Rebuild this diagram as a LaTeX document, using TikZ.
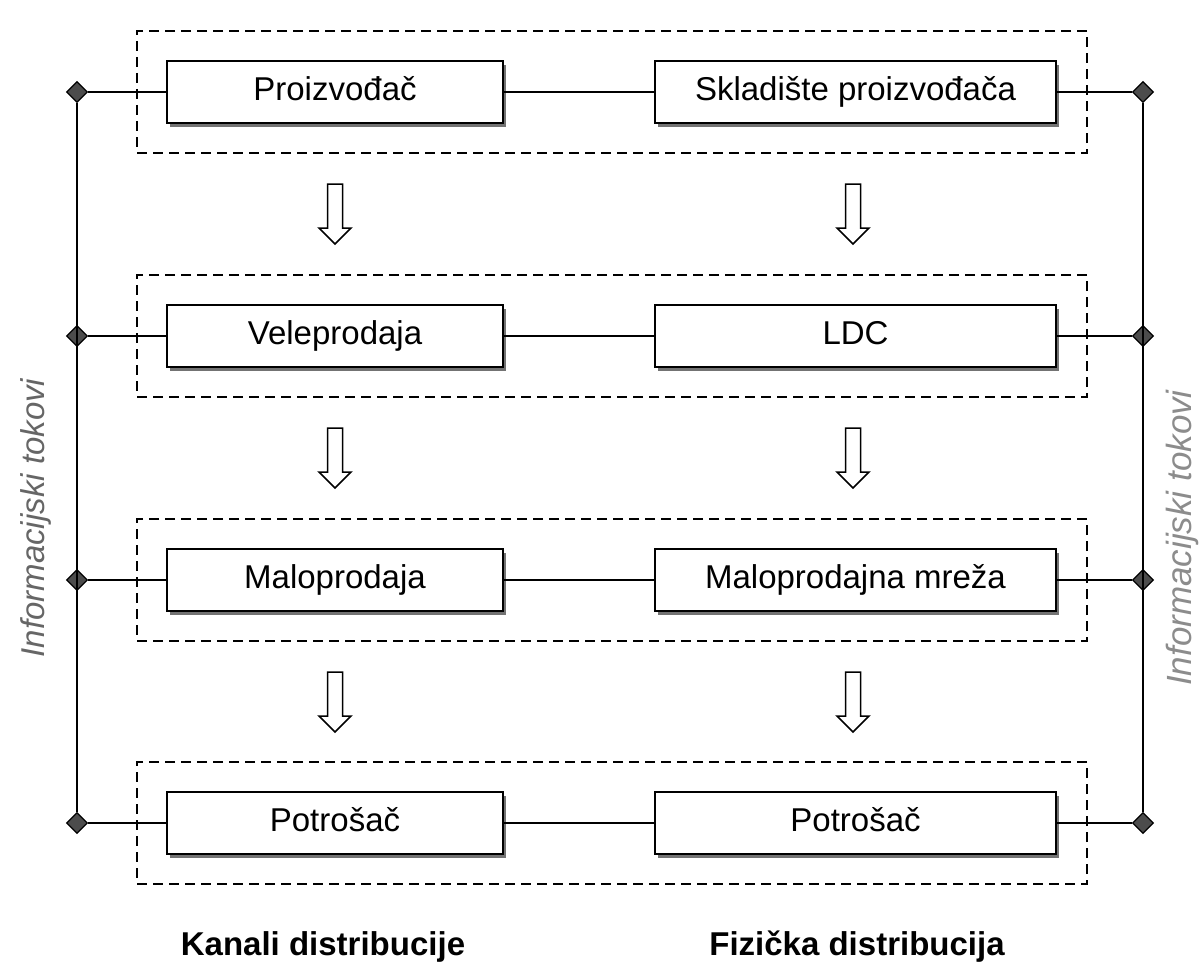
\documentclass[tikz,border=0pt]{standalone}
\usepackage{fontspec}
\setmainfont{Liberation Sans}
\usetikzlibrary{shapes.geometric,shadows}
\tikzset{
  grpbox/.style={draw, dash pattern=on 10pt off 6pt, line width=2pt, minimum width=950pt, minimum height=122pt},
  stagebox/.style={draw, line width=1.6pt, fill=white, minimum height=62pt, text height=24pt, text depth=7pt,
    font=\fontsize{33}{40}\selectfont,
    drop shadow={shadow xshift=3pt, shadow yshift=-4pt, fill=black!55, opacity=1}},
  joint/.style={diamond, draw, fill=black!70, minimum size=21pt, inner sep=0pt},
  sidelabel/.style={rotate=90, anchor=base, font=\fontsize{33}{40}\selectfont\itshape, text=black!60},
  flowlabel/.style={anchor=base, font=\fontsize{33}{40}\selectfont\bfseries},
  flowarrow/.style={draw, line width=1.5pt, fill=white}
}
\begin{document}
\begin{tikzpicture}[x=1pt, y=-1pt, line width=1.3pt]
\useasboundingbox (0,0) rectangle (1201,963);
% dashed groups
\node[grpbox] (grp1) at (612,92){};
\node[grpbox] (grp2) at (612,336){};
\node[grpbox] (grp3) at (612,580){};
\node[grpbox] (grp4) at (612,823){};
% kanali distribucije
\node[stagebox, minimum width=336pt] (kanal1) at (335,92){Proizvođač};
\node[stagebox, minimum width=336pt] (kanal2) at (335,336){Veleprodaja};
\node[stagebox, minimum width=336pt] (kanal3) at (335,580){Maloprodaja};
\node[stagebox, minimum width=336pt] (kanal4) at (335,823){Potrošač};
% fizicka distribucija
\node[stagebox, minimum width=401pt] (fiz1) at (855.5,92){Skladište proizvođača};
\node[stagebox, minimum width=401pt] (fiz2) at (855.5,336){LDC};
\node[stagebox, minimum width=401pt] (fiz3) at (855.5,580){Maloprodajna mreža};
\node[stagebox, minimum width=401pt] (fiz4) at (855.5,823){Potrošač};
% informacijski tokovi
\node[joint] (infoL1) at (77,92){};
\node[joint] (infoL2) at (77,336){};
\node[joint] (infoL3) at (77,580){};
\node[joint] (infoL4) at (77,823){};
\node[joint] (infoR1) at (1143,92){};
\node[joint] (infoR2) at (1143,336){};
\node[joint] (infoR3) at (1143,580){};
\node[joint] (infoR4) at (1143,823){};
\draw[](infoL1) -- (infoL4);
\draw[](infoR1) -- (infoR4);
\draw[](infoL1) -- (kanal1);
\draw[](kanal1) -- (fiz1);
\draw[](fiz1) -- (infoR1);
\draw[](infoL2) -- (kanal2);
\draw[](kanal2) -- (fiz2);
\draw[](fiz2) -- (infoR2);
\draw[](infoL3) -- (kanal3);
\draw[](kanal3) -- (fiz3);
\draw[](fiz3) -- (infoR3);
\draw[](infoL4) -- (kanal4);
\draw[](kanal4) -- (fiz4);
\draw[](fiz4) -- (infoR4);
% hollow arrows between groups
\foreach \ax in {335,853}
  \foreach \ay in {184,428,672}
    \draw[flowarrow] (\ax-7.5,\ay) -- ++(15,0) -- ++(0,44) -- ++(8.5,0) -- (\ax,\ay+60)
      -- (\ax-16,\ay+44) -- ++(8.5,0) -- cycle;
% labels
\node[sidelabel] (infoleft) at (44,518){Informacijski tokovi};
\node[sidelabel, text=black!45, font=\fontsize{35}{42}\selectfont\itshape] (inforight) at (1191,538){Informacijski tokovi};
\node[flowlabel] (kanali) at (323,955){Kanali distribucije};
\node[flowlabel] (fizicka) at (857,955){Fizička distribucija};
\end{tikzpicture}
\end{document}
